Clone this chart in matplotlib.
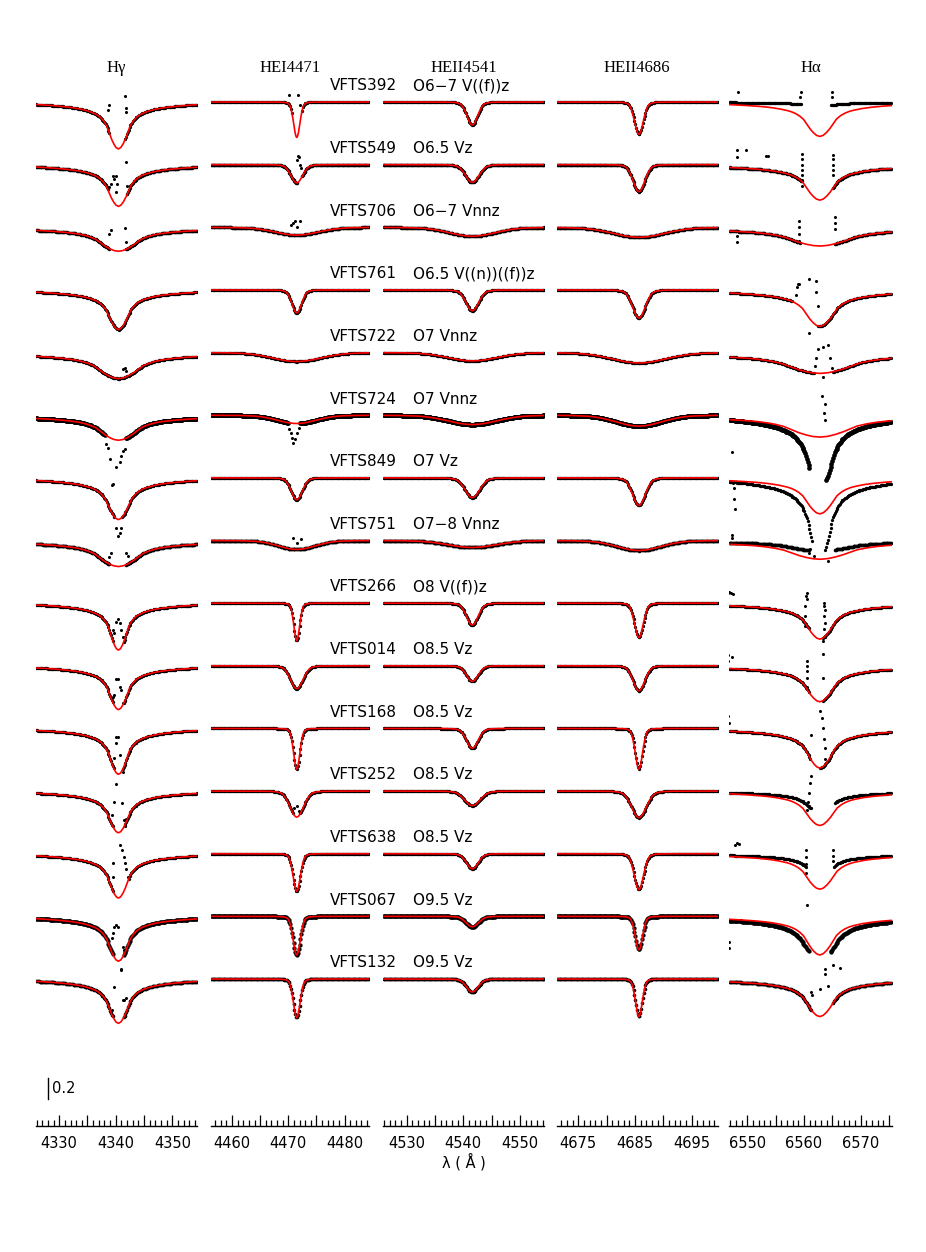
import numpy as np
import matplotlib.pyplot as plt
from matplotlib.ticker import MultipleLocator, FuncFormatter
from matplotlib.transforms import blended_transform_factory

# stars from top to bottom
stars = ['VFTS392', 'VFTS549', 'VFTS706', 'VFTS761', 'VFTS722', 'VFTS724', 'VFTS849', 'VFTS751',
         'VFTS266', 'VFTS014', 'VFTS168', 'VFTS252', 'VFTS638', 'VFTS067', 'VFTS132']
sptypes = ['O6\u22127 V((f))z', 'O6.5 Vz', 'O6\u22127 Vnnz', 'O6.5 V((n))((f))z', 'O7 Vnnz', 'O7 Vnnz',
           'O7 Vz', 'O7\u22128 Vnnz', 'O8 V((f))z', 'O8.5 Vz', 'O8.5 Vz', 'O8.5 Vz', 'O8.5 Vz',
           'O9.5 Vz', 'O9.5 Vz']
# scatter of the observed points around the continuum
noise = [0.008, 0.01, 0.01, 0.008, 0.008, 0.025, 0.008, 0.012, 0.008, 0.008, 0.008, 0.008, 0.008,
         0.02, 0.012]

line_names = ['H\u03b3', 'HEI4471', 'HEII4541', 'HEII4686', 'H\u03b1']
line_centres = [4340.47, 4471.5, 4541.6, 4685.7, 6562.8]
wave_ranges = [(4325.9, 4354.3), (4456.2, 4484.4), (4525.9, 4554.3), (4671.2, 4699.6), (6546.8, 6575.5)]
tick_labels = [[4330, 4340, 4350], [4460, 4470, 4480], [4530, 4540, 4550],
               [4675, 4685, 4695], [6550, 6560, 6570]]

row_step = 0.6
scale_bar = 0.2

# line profile shapes (fraction of central depth vs offset in half-widths)
shape_u = [0, .2, .4, .6, .8, 1, 1.25, 1.5, 1.75, 2, 2.5, 3, 3.5, 4, 5, 6, 7, 8, 10, 12, 15]
shape_h = [1, .97, .89, .78, .64, .50, .40, .33, .28, .245, .195, .16, .135, .115, .087, .066,
           .051, .04, .024, .014, .006]
shape_he = [1, .972, .895, .78, .64, .50, .35, .22, .13, .075, .03, .015, .009, .006, .003, .001,
            0, 0, 0, 0, 0]

# model fits: central depth and half width (A);  columns Hg, HeI4471, HeII4541, HeII4686, Ha
depth = [[0.45, 0.34, 0.22, 0.31, 0.33],
         [0.40, 0.175, 0.17, 0.26, 0.34],
         [0.23, 0.075, 0.086, 0.096, 0.18],
         [0.38, 0.22, 0.20, 0.27, 0.35],
         [0.25, 0.086, 0.08, 0.10, 0.20],
         [0.24, 0.08, 0.09, 0.105, 0.21],
         [0.40, 0.21, 0.19, 0.265, 0.345],
         [0.25, 0.086, 0.067, 0.096, 0.18],
         [0.45, 0.36, 0.21, 0.33, 0.345],
         [0.42, 0.22, 0.15, 0.24, 0.345],
         [0.44, 0.39, 0.19, 0.39, 0.38],
         [0.40, 0.25, 0.14, 0.255, 0.33],
         [0.425, 0.36, 0.145, 0.345, 0.34],
         [0.43, 0.37, 0.10, 0.32, 0.37],
         [0.425, 0.37, 0.125, 0.36, 0.36]]
hwhm = [[2.1, 0.65, 1.1, 0.9, 2.9],
        [2.2, 1.2, 1.4, 1.2, 3.0],
        [4.0, 4.5, 4.7, 5.3, 6.5],
        [2.2, 1.0, 1.3, 1.3, 3.1],
        [4.4, 5.0, 5.0, 5.5, 7.0],
        [4.0, 4.0, 5.0, 4.7, 6.5],
        [2.35, 1.15, 1.5, 1.3, 3.0],
        [4.3, 3.8, 5.0, 4.5, 6.5],
        [1.8, 0.6, 1.2, 0.9, 2.8],
        [2.0, 1.3, 1.2, 1.2, 2.9],
        [1.9, 0.65, 1.2, 0.75, 2.7],
        [2.1, 1.4, 1.6, 1.5, 3.0],
        [2.0, 0.75, 1.2, 0.95, 3.0],
        [2.1, 0.75, 1.3, 0.75, 2.9],
        [2.1, 0.7, 1.2, 0.7, 2.9]]

# observed spectra that differ from the fit: (star, line, depth, half width)
obs_override = [(0, 4, 0.03, 5.0), (5, 4, 0.72, 2.6), (6, 4, 0.80, 2.2), (7, 4, 0.10, 6.5),
                (11, 4, 0.20, 3.0), (12, 4, 0.20, 3.0), (13, 4, 0.42, 3.5)]

# nebular regions cut from the observed spectra: (star, line, from, to) in A from line centre
obs_gaps = [(0, 0, -1.6, 1.2), (0, 1, -0.8, 0.8), (0, 4, -3.3, 2.0),
            (1, 0, -1.8, 1.4), (1, 1, 0.1, 0.9), (1, 4, -3.2, 2.2),
            (2, 0, -1.5, 1.3), (2, 4, -3.5, 2.5),
            (3, 4, -5.0, -0.5),
            (4, 4, -1.0, 2.2),
            (5, 0, -2.3, 1.3), (5, 1, -1.5, 0.5), (5, 4, -1.8, 1.0),
            (6, 0, -0.6, 0.6), (6, 4, -1.3, 0.9),
            (7, 0, -1.5, 1.3), (7, 4, -2.0, 2.5),
            (8, 0, -0.9, 0.9), (8, 4, -2.0, 0.4),
            (9, 0, -0.9, 0.9), (9, 4, -2.0, 0.5),
            (10, 0, -0.8, 0.7), (10, 4, -1.6, 0.0),
            (11, 0, -1.0, 1.0), (11, 1, -0.6, 0.6), (11, 4, -1.5, 2.6),
            (12, 0, -0.9, 1.7), (12, 4, -2.4, 2.4),
            (13, 0, -0.9, 0.9), (13, 4, -2.0, 1.8),
            (14, 0, -0.9, 0.9), (14, 4, -1.5, 2.3)]

# single observed points (nebular residuals): (star, line, [(offset A, flux - continuum)])
obs_extra = [
    (0, 0, [(-1.7, -0.03), (-1.8, -0.08), (1.1, 0.06), (1.25, -0.06), (1.35, -0.1)]),
    (0, 1, [(-1.35, 0.065), (0.25, 0.065), (0.6, -0.03)]),
    (0, 4, [(-3.4, 0.1), (-3.5, 0.05), (2.1, 0.1), (2.2, 0.05), (-14.5, 0.1)]),
    (1, 0, [(-1.3, -0.19), (-1.0, -0.11), (-0.7, -0.14), (-0.4, -0.11), (-0.2, -0.19), (-0.5, -0.26),
            (-1.7, -0.21), (1.35, 0.03), (1.6, -0.2)]),
    (1, 1, [(0.2, 0.08), (0.45, 0.07), (0.1, 0.04), (0.5, 0.0), (0.7, -0.03)]),
    (1, 4, [(-3.1, 0.1), (-3.1, 0.05), (-3.1, 0.0), (-3.1, -0.05), (-3.1, -0.1), (-3.1, -0.15),
            (-3.1, -0.2), (2.3, 0.09), (2.3, 0.05), (2.3, 0.0), (2.3, -0.05), (2.3, -0.1),
            (-14.7, 0.14), (-14.7, 0.07), (-13.0, 0.14), (-9.5, 0.08), (-9.2, 0.08)]),
    (2, 0, [(-1.7, -0.064), (-1.3, -0.026), (1.2, -0.01), (1.35, -0.145)]),
    (2, 1, [(-1.1, 0.02), (-0.7, 0.04), (-0.3, 0.06), (0.6, 0.06), (0.0, 0.0)]),
    (2, 4, [(-3.6, 0.06), (-3.6, 0.0), (-3.6, -0.06), (-3.6, -0.13), (2.6, 0.1), (2.6, 0.04),
            (2.6, -0.02), (-14.6, -0.14), (-14.6, -0.08)]),
    (3, 4, [(-4.2, -0.05), (-4.0, 0.03), (-3.9, 0.06), (-3.6, 0.06), (-2.0, 0.1), (-0.7, 0.09),
            (-0.6, -0.02), (-0.4, -0.15), (-1.9, -0.41)]),
    (4, 0, [(0.8, -0.16), (1.1, -0.15), (1.4, -0.18)]),
    (4, 4, [(-0.9, -0.13), (-0.6, -0.05), (-0.3, 0.03), (0.5, 0.05), (1.5, 0.07), (1.8, -0.05),
            (2.1, -0.15), (0.6, -0.23)]),
    (5, 0, [(-2.2, -0.28), (-1.9, -0.31), (-1.5, -0.42), (-1.0, -0.66), (-0.4, -0.5), (0.2, -0.45),
            (0.5, -0.39), (0.76, -0.34), (1.2, -0.32)]),
    (5, 1, [(-1.35, -0.13), (-1.06, -0.17), (-0.76, -0.22), (-0.6, -0.27), (-0.35, -0.23),
            (0.1, -0.17), (0.4, -0.12)]),
    (5, 4, [(0.4, 0.18), (0.9, 0.11), (0.7, 0.02), (0.9, -0.05), (-15.5, -0.35)]),
    (6, 0, [(-0.4, -0.48), (-0.1, -0.56), (0.2, -0.53), (0.5, -0.48), (-1.1, -0.065)]),
    (6, 4, [(-15.3, -0.05), (-15.2, -0.1), (-15.1, -0.2), (-15.0, -0.3)]),
    (7, 0, [(-1.7, -0.16), (-1.4, -0.12), (1.4, -0.12), (1.7, -0.15)]),
    (7, 1, [(-0.6, 0.025), (0.7, 0.01), (0.1, -0.02)]),
    (7, 4, [(-1.1, -0.15), (1.5, -0.2), (-15.6, 0.05), (-15.5, 0.02), (-1.9, -0.12), (-1.7, -0.08)]),
    (8, 0, [(-0.7, -0.29), (-0.4, -0.18), (-0.1, -0.15), (0.2, -0.19), (0.5, -0.26), (0.76, -0.32),
            (-1.0, -0.26)]),
    (8, 4, [(-2.6, -0.22), (-2.6, -0.12), (-2.6, -0.03), (-2.5, 0.07), (-2.2, 0.04), (-2.2, 0.1),
            (0.7, -0.25), (0.7, -0.12), (0.7, -0.03), (0.7, 0.0), (1.0, -0.07), (1.0, -0.19),
            (0.6, -0.36), (-16.3, 0.1), (-16.0, 0.11), (-15.7, 0.1), (-15.4, 0.09)]),
    (9, 0, [(-0.7, -0.28), (-0.4, -0.13), (-0.1, -0.13), (0.2, -0.2), (0.5, -0.23), (0.76, -0.36),
            (-1.0, -0.3)]),
    (9, 4, [(-2.2, -0.2), (-2.2, -0.12), (-2.2, -0.05), (-2.2, 0.0), (-2.2, 0.05), (0.5, 0.11),
            (0.5, -0.12), (-16.2, 0.1), (-16.2, 0.05), (-15.6, 0.08)]),
    (10, 0, [(-0.4, -0.08), (-0.1, -0.08), (-0.4, -0.14), (-0.7, -0.28), (0.2, -0.25), (0.76, -0.42)]),
    (10, 4, [(-1.6, -0.06), (0.0, 0.17), (0.3, 0.1), (0.6, 0.0), (0.8, -0.1), (0.9, -0.19),
             (1.0, -0.29), (-16.2, 0.12), (-16.1, 0.05)]),
    (11, 0, [(-0.5, 0.07), (-0.7, -0.1), (0.65, -0.11), (-1.1, -0.23), (1.06, -0.28), (1.35, -0.27)]),
    (11, 1, [(-0.5, -0.16), (0.0, -0.145), (0.4, -0.19), (-0.8, -0.19)]),
    (11, 4, [(-2.3, -0.18), (-2.0, -0.02), (-1.8, 0.08), (-1.6, 0.14), (-2.1, -0.1)]),
    (12, 0, [(0.35, 0.08), (0.65, 0.04), (0.9, -0.03), (1.1, -0.09), (1.35, -0.15), (1.65, -0.22),
             (-1.0, -0.09), (-1.0, -0.22)]),
    (12, 4, [(-2.5, -0.18), (-2.5, -0.1), (-2.5, -0.03), (-2.4, 0.04), (2.4, 0.04), (2.4, -0.02),
             (2.4, -0.07), (-15.0, 0.08), (-14.6, 0.1), (-14.2, 0.09)]),
    (13, 0, [(-0.7, -0.1), (-0.4, -0.08), (-0.1, -0.1), (-1.0, -0.16), (-1.1, -0.21), (0.76, -0.29),
             (1.06, -0.32), (0.47, -0.5)]),
    (13, 4, [(-2.2, 0.11), (-16.0, -0.25), (-16.0, -0.3)]),
    (14, 0, [(-0.7, -0.08), (0.76, -0.2), (1.06, -0.2), (1.35, -0.18), (-1.1, -0.3), (0.5, 0.09)]),
    (14, 4, [(0.9, 0.1), (0.9, 0.05), (2.3, 0.13), (3.5, 0.11), (0.0, -0.1), (-1.5, -0.12),
             (-1.4, -0.15), (1.5, -0.07)]),
]

W, H = 926, 1252
fig = plt.figure(figsize=(W / 100, H / 100), dpi=100)

col_px = [(36, 196.7), (210.7, 369.3), (383.3, 544.3), (556.7, 717.7), (729.3, 891.7)]
top_px, bottom_px = 50, 1126
ylims = (-8.808, 1.498)
px_per_flux = (bottom_px - top_px) / (ylims[1] - ylims[0])

override = {(o[0], o[1]): (o[2], o[3]) for o in obs_override}

axes = []
for j in range(5):
    x0, x1 = col_px[j]
    ax = fig.add_axes([x0 / W, 1 - bottom_px / H, (x1 - x0) / W, (bottom_px - top_px) / H])
    axes.append(ax)
    ax.set_xlim(wave_ranges[j])
    ax.set_ylim(ylims)
    c = line_centres[j]
    shape = shape_h if j in (0, 4) else shape_he
    wgrid = np.arange(wave_ranges[j][0], wave_ranges[j][1] + 0.01, 0.05)
    ogrid = np.arange(wave_ranges[j][0] + 0.05, wave_ranges[j][1], 0.15)
    for i in range(len(stars)):
        base = 1 - row_step * i
        d, w = depth[i][j], hwhm[i][j]
        model = base - d * np.interp(np.abs(wgrid - c) / w, shape_u, shape, right=0)
        do, wo = override.get((i, j), (d, w))
        dx = ogrid - c
        keep = np.ones(dx.size, bool)
        for g in obs_gaps:
            if g[0] == i and g[1] == j:
                keep &= ~((dx > g[2]) & (dx < g[3]))
        obs = base - do * np.interp(np.abs(dx) / wo, shape_u, shape, right=0)
        band = (2.6 + 0.8 * noise[i] * px_per_flux) * 0.72
        ax.plot(ogrid[keep], obs[keep], 'o', ms=band, color='k', mec='none', zorder=1)
        for e in obs_extra:
            if e[0] == i and e[1] == j:
                px = [c + p[0] for p in e[2]]
                py = [base + p[1] for p in e[2]]
                ax.plot(px, py, 'o', ms=2.2, color='k', mec='none', zorder=1)
        ax.plot(wgrid, model, color='red', lw=1.2, zorder=3)

    for s in ['top', 'left', 'right']:
        ax.spines[s].set_visible(False)
    ax.spines['bottom'].set_linewidth(1.0)
    ax.set_yticks([])
    ax.xaxis.set_major_locator(MultipleLocator(5))
    ax.xaxis.set_minor_locator(MultipleLocator(1))
    labs = tick_labels[j]
    ax.xaxis.set_major_formatter(FuncFormatter(lambda v, p, labs=labs: '%d' % round(v) if round(v) in labs else ''))
    ax.tick_params(axis='x', which='major', direction='in', length=8, width=0.9, labelsize=10.5, pad=7)
    ax.tick_params(axis='x', which='minor', direction='in', length=4, width=0.9)
    ax.patch.set_visible(False)

    fig.text((x0 + x1) / 2 / W, 1 - 68 / H, line_names[j], ha='center', va='center',
             fontsize=12, family='Liberation Serif')

# star names and spectral types
tr = blended_transform_factory(fig.transFigure, axes[0].transData)
for i in range(len(stars)):
    y = 1 - row_step * i + 0.155
    fig.text(330 / W, y, stars[i], transform=tr, ha='left', va='center', fontsize=11)
    fig.text(413 / W, y, sptypes[i], transform=tr, ha='left', va='center', fontsize=11)

# flux scale bar
axes[0].plot([4328.0, 4328.0], [-8.55, -8.55 + scale_bar], color='k', lw=1)
axes[0].text(4328.7, -8.55 + scale_bar / 2, '%.1f' % scale_bar, ha='left', va='center', fontsize=10.5)

fig.text((col_px[2][0] + col_px[2][1]) / 2 / W, 1 - 1162 / H, '\u03bb ( \u00c5 )', ha='center',
         va='center', fontsize=10.5)

fig.savefig('out.png', dpi=100)
